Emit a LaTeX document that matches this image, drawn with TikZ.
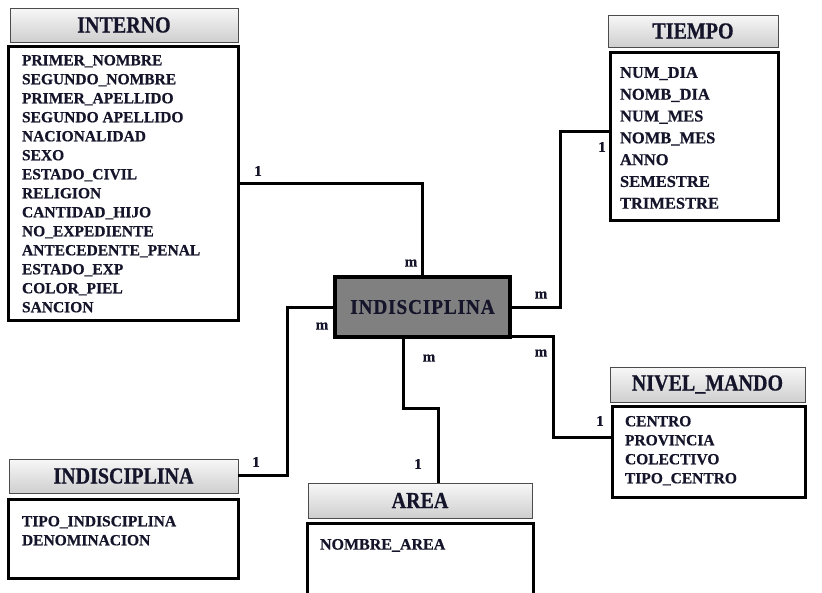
\documentclass[tikz,border=0pt]{standalone}
\usepackage{fontspec}
\setmainfont{Liberation Serif}[BoldFeatures={FakeBold=0.5}]
\newfontfamily\hdrfont[FakeStretch=0.87,BoldFeatures={FakeBold=0.6}]{Liberation Serif}
\newfontfamily\centfont[FakeStretch=0.92,LetterSpace=4,BoldFeatures={FakeBold=0.6}]{Liberation Serif}
\definecolor{txt}{HTML}{14142A}
\definecolor{midgray}{HTML}{808080}
\begin{document}
\begin{tikzpicture}[x=1pt,y=-1pt,
  every node/.style={outer sep=0pt},
  hdr/.style={draw=black!70, line width=1pt, top color=gray!6, bottom color=gray!38, anchor=north west, inner sep=0, text=txt, font=\hdrfont\bfseries\fontsize{23}{26}\selectfont},
  body/.style={draw=black, line width=3pt, fill=white, anchor=north west, inner sep=0},
  attr/.style={anchor=north west, inner sep=0, align=left, text=txt, font=\bfseries\fontsize{15.5}{19}\selectfont},
  card/.style={font=\bfseries\fontsize{15}{15}\selectfont, inner sep=0, text=txt},
  conn/.style={line width=3pt, line join=miter}]
\useasboundingbox (0,0) rectangle (822,592);
\clip (0,0) rectangle (822,592);
\fill[white] (0,0) rectangle (822,592);

% INTERNO
\node[hdr, minimum width=228pt, minimum height=34pt] (interH) at (10,8) {INTERNO};
\node[body, minimum width=230pt, minimum height=274pt] (interB) at (8,46) {};
\node[attr] (interA) at (22,55) {PRIMER\_NOMBRE\\SEGUNDO\_NOMBRE\\PRIMER\_APELLIDO\\SEGUNDO APELLIDO\\NACIONALIDAD\\SEXO\\ESTADO\_CIVIL\\RELIGION\\CANTIDAD\_HIJO\\NO\_EXPEDIENTE\\ANTECEDENTE\_PENAL\\ESTADO\_EXP\\COLOR\_PIEL\\SANCION};

% TIEMPO
\node[hdr, minimum width=170pt, minimum height=32pt] (tiemH) at (608,15) {TIEMPO};
\node[body, minimum width=168pt, minimum height=168pt] (tiemB) at (610,52) {};
\node[attr, font=\bfseries\fontsize{16.5}{21.8}\selectfont] (tiemA) at (620,67) {NUM\_DIA\\NOMB\_DIA\\NUM\_MES\\NOMB\_MES\\ANNO\\SEMESTRE\\TRIMESTRE};

% NIVEL_MANDO
\node[hdr, minimum width=195pt, minimum height=35pt] (nivH) at (610,367) {NIVEL\_MANDO};
\node[body, minimum width=193pt, minimum height=91pt] (nivB) at (612,406) {};
\node[attr] (nivA) at (625,416) {CENTRO\\PROVINCIA\\COLECTIVO\\TIPO\_CENTRO};

% INDISCIPLINA (lower left)
\node[hdr, minimum width=229pt, minimum height=34pt] (indH) at (9,459) {INDISCIPLINA};
\node[body, minimum width=230pt, minimum height=79pt] (indB) at (8,499) {};
\node[attr] (indA) at (22,516) {TIPO\_INDISCIPLINA\\DENOMINACION};

% AREA
\node[hdr, minimum width=224pt, minimum height=35pt] (areaH) at (308,483) {AREA};
\node[body, minimum width=226pt, minimum height=90pt] (areaB) at (307,523) {};
\node[attr, font=\bfseries\fontsize{16}{19}\selectfont] (areaA) at (320,539) {NOMBRE\_AREA};

% central entity
\node[draw=black, line width=4pt, fill=midgray, minimum width=175pt, minimum height=60pt, anchor=north west, inner sep=0, text=txt, font=\centfont\bfseries\fontsize{21}{24}\selectfont] (cent) at (335,277) {INDISCIPLINA};

% connectors
\coordinate (c1) at (cent.north |- interB.east);
\draw[conn] (interB.east) -- (c1) -- (cent.north);
\coordinate (c2) at (560,307);
\coordinate (c3) at (560,131);
\draw[conn] (cent.east) -- (c2) -- (c3) -- (tiemB.west |- c3);
\coordinate (c4) at (553,336);
\coordinate (c5) at (553,437);
\draw[conn] (cent.south east |- c4) -- (c4) -- (c5) -- (nivB.west |- c5);
\coordinate (c6) at (287,307);
\coordinate (c7) at (287,475);
\draw[conn] (cent.west) -- (c6) -- (c7) -- (indH.east |- c7);
\coordinate (c8) at (403,408);
\coordinate (c9) at (438,408);
\draw[conn] (cent.south -| c8) -- (c8) -- (c9) -- (areaH.north -| c9);

% cardinalities
\node[card] (k1) at (258,171) {1};
\node[card] (k2) at (411,263) {m};
\node[card] (k3) at (322,326) {m};
\node[card] (k4) at (256,462) {1};
\node[card] (k5) at (429,358) {m};
\node[card] (k6) at (418,464) {1};
\node[card] (k7) at (541,295) {m};
\node[card] (k8) at (602,147) {1};
\node[card] (k9) at (541,353) {m};
\node[card] (k10) at (600,421) {1};
\end{tikzpicture}
\end{document}
